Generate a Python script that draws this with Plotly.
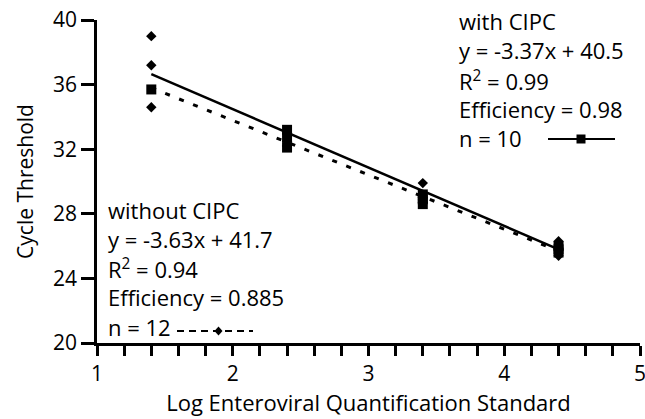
import plotly.graph_objects as go

# ---- data ----
with_x = [1.4, 2.4, 2.4, 2.4, 3.4, 3.4, 3.4, 4.4, 4.4, 4.4]
with_y = [35.7, 33.2, 32.7, 32.1, 29.2, 28.9, 28.6, 26.0, 25.8, 25.6]

without_x = [1.4, 1.4, 1.4, 2.4, 2.4, 2.4, 3.4, 3.4, 3.4, 4.4, 4.4, 4.4]
without_y = [39.0, 37.2, 34.6, 33.0, 32.5, 32.2, 29.9, 29.0, 28.7, 26.3, 25.8, 25.4]

fit_x = [1.4, 4.4]
solid_fit_y = [36.65, 25.8]
dashed_fit_y = [35.8, 25.7]

with_label = ["with CIPC", "y = -3.37x + 40.5", "R<sup>2</sup> = 0.99", "Efficiency = 0.98", "n = 10"]
without_label = ["without CIPC", "y = -3.63x + 41.7", "R<sup>2</sup> = 0.94", "Efficiency = 0.885", "n = 12"]

x_ticks = [1, 2, 3, 4, 5]
y_ticks = [20, 24, 28, 32, 36, 40]

FONT = "Open Sans, Liberation Sans, sans-serif"
FS = 22
TICKC = "#000000"

fig = go.Figure()
fig.add_trace(go.Scatter(x=fit_x, y=dashed_fit_y, mode="lines",
                         line=dict(color="black", width=3, dash="5px,10px"), showlegend=False))
fig.add_trace(go.Scatter(x=fit_x, y=solid_fit_y, mode="lines",
                         line=dict(color="black", width=2.5), showlegend=False))
fig.add_trace(go.Scatter(x=without_x, y=without_y, mode="markers",
                         marker=dict(symbol="diamond", size=8, color="black"), showlegend=False))
fig.add_trace(go.Scatter(x=with_x, y=with_y, mode="markers",
                         marker=dict(symbol="square", size=10, color="black"), showlegend=False))

L, R, T, B = 97, 5, 20, 76
W, H = 645, 419
pw, ph = W - L - R, H - T - B


def px(X):
    return (X - L) / pw


def py(Y):
    return (H - B - Y) / ph


annotations = []
for text, yy in zip(with_label, [21, 50, 80, 109, 138]):
    annotations.append(dict(x=px(457), y=py(yy), xref="paper", yref="paper", text=text,
                            showarrow=False, xanchor="left", yanchor="middle",
                            font=dict(family=FONT, size=FS, color="black")))
for text, yy in zip(without_label, [210, 239, 268, 297, 327]):
    annotations.append(dict(x=px(106), y=py(yy), xref="paper", yref="paper", text=text,
                            showarrow=False, xanchor="left", yanchor="middle",
                            font=dict(family=FONT, size=FS, color="black")))

shapes = [
    # legend sample: with CIPC (solid + square)
    dict(type="line", xref="paper", yref="paper", x0=px(548), x1=px(615), y0=py(139), y1=py(139),
         line=dict(color="black", width=2)),
    dict(type="rect", xref="paper", yref="paper", xsizemode="pixel", ysizemode="pixel",
         xanchor=px(581), yanchor=py(139), x0=-4.5, x1=4.5, y0=-4.5, y1=4.5,
         fillcolor="black", line=dict(width=0)),
    # legend sample: without CIPC (dashed + diamond)
    dict(type="line", xref="paper", yref="paper", x0=px(177), x1=px(253), y0=py(331), y1=py(331),
         line=dict(color="black", width=2, dash="7px,5px")),
    dict(type="path", xref="paper", yref="paper", xsizemode="pixel", ysizemode="pixel",
         xanchor=px(218.5), yanchor=py(331), path="M0,4.5 L4,0 L0,-4.5 L-4,0 Z",
         fillcolor="black", line=dict(width=0)),
]

fig.update_layout(
    width=W, height=H,
    margin=dict(l=L, r=R, t=T, b=B),
    plot_bgcolor="white",
    annotations=annotations, shapes=shapes,
    xaxis=dict(range=[1, 5], tickvals=x_ticks, showgrid=False, automargin=False,
               showline=True, linecolor="black", linewidth=2.5,
               ticks="outside", ticklen=10, tickwidth=3, tickcolor=TICKC,
               ticklabeloverflow="allow",
               minor=dict(dtick=0.2, ticks="outside", ticklen=10, tickwidth=3, tickcolor=TICKC),
               tickfont=dict(family=FONT, size=21, color="black"),
               title=dict(text="Log Enteroviral Quantification Standard",
                          font=dict(family=FONT, size=22, color="black"), standoff=8)),
    yaxis=dict(range=[20, 40], tickvals=y_ticks, showgrid=False, automargin=False,
               showline=True, linecolor="black", linewidth=2.5,
               ticks="outside", ticklen=13, tickwidth=3, tickcolor=TICKC,
               tickfont=dict(family=FONT, size=21, color="black"),
               title=dict(text="Cycle Threshold", font=dict(family=FONT, size=21, color="black"),
                          standoff=14)),
)

fig.write_html("out.html")
